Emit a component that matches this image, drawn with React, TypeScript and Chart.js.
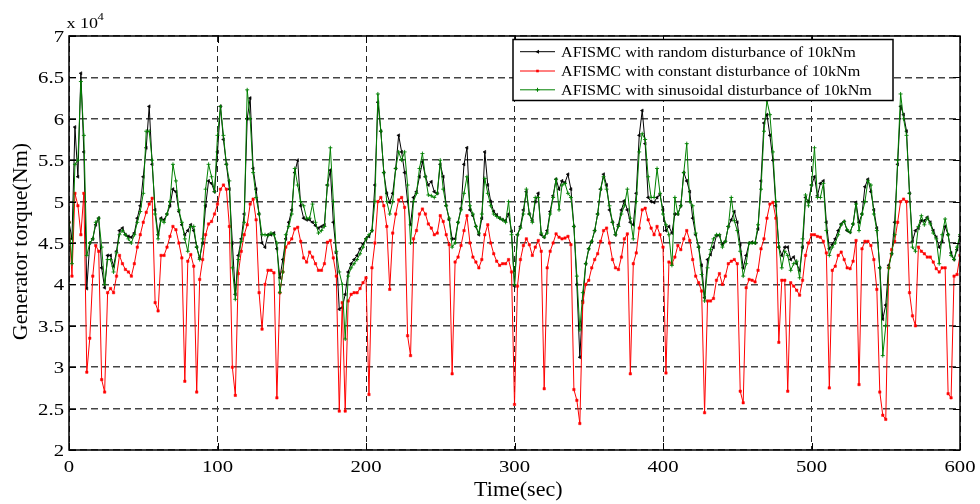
import React, { useEffect, useRef } from "react";
import { Chart, registerables } from "chart.js";

Chart.register(...registerables);

// Sample times (s), one every 2 s
const timeSec: number[] = Array.from({ length: 301 }, (_, i) => i * 2);

// Generator torque (x 10^4 Nm)
const randomDist: number[] = [
  4.75, 4.55, 5.9, 5.3, 6.55, 5.6, 3.95, 4.5, 4.55, 4.72,
  4.8, 4.2, 3.96, 4.35, 4.35, 4.22, 4.4, 4.65, 4.68, 4.6,
  4.58, 4.57, 4.62, 4.8, 4.95, 5.3, 5.65, 6.15, 5.45, 4.9,
  4.6, 4.8, 4.78, 4.85, 4.95, 5.15, 5.12, 4.88, 4.72, 4.6,
  4.65, 4.72, 4.65, 4.45, 4.32, 4.5, 4.95, 5.25, 5.22, 5.12,
  5.6, 6.15, 5.75, 5.45, 5.15, 4.5, 3.88, 4.35, 4.55, 4.85,
  6.0, 6.25, 5.4, 5.15, 4.85, 4.5, 4.45, 4.6, 4.6, 4.62,
  4.43, 4.08, 4.3, 4.55, 4.75, 4.9, 5.35, 5.5, 4.95, 4.8,
  4.78, 4.78, 4.75, 4.71, 4.68, 4.7, 4.72, 5.2, 5.38, 4.75,
  4.38, 3.7, 3.72, 3.88, 4.15, 4.25, 4.3, 4.35, 4.43, 4.49,
  4.55, 4.58, 4.65, 5.2, 6.2, 5.85, 5.35, 5.1, 4.99, 5.1,
  5.4, 5.8, 5.6, 5.35, 5.0, 4.72, 5.05, 5.12, 5.3, 5.48,
  5.3, 5.2, 5.24, 5.12, 5.1, 5.45, 5.3, 4.95, 4.78, 4.55,
  4.55, 4.75, 4.92, 5.45, 5.65, 4.9, 4.83, 4.7, 4.6, 4.8,
  5.6, 5.2, 5.0, 4.88, 4.84, 4.8, 4.78, 4.77, 4.85, 4.64,
  3.98, 4.6, 4.7, 4.9, 5.12, 4.85, 4.77, 5.0, 5.1, 4.6,
  4.57, 4.65, 4.88, 5.07, 5.27, 5.15, 5.25, 5.23, 5.33, 5.15,
  4.7, 4.0, 3.12, 3.8, 4.25, 4.43, 4.52, 4.65, 4.85, 5.15,
  5.33, 5.2, 4.9, 4.75, 4.6, 4.72, 4.9, 5.01, 4.9, 4.75,
  4.72, 5.1, 5.8, 6.1, 5.7, 5.05, 5.0, 4.99, 5.05, 5.08,
  4.9, 4.65, 4.7, 4.62, 4.85, 4.85, 4.95, 5.35, 5.25, 5.12,
  4.8, 4.6, 4.45, 4.23, 3.84, 4.3, 4.36, 4.45, 4.59, 4.59,
  4.48, 4.52, 4.7, 4.78, 4.88, 4.75, 4.48, 4.2, 4.35, 4.5,
  4.51, 4.5, 4.67, 5.25, 5.95, 6.05, 5.8, 5.5, 4.95, 4.45,
  4.35, 4.45, 4.45, 4.3, 4.33, 4.25, 4.17, 4.45, 5.05, 5.0,
  5.2, 5.3, 5.07, 5.22, 5.25, 4.75, 4.43, 4.48, 4.55, 4.65,
  4.73, 4.76, 4.65, 4.63, 4.73, 4.99, 4.75, 4.85, 5.18, 5.27,
  5.12, 4.9, 4.68, 4.2, 3.58, 3.75, 4.23, 4.37, 4.75, 5.45,
  6.15, 6.05, 5.85, 5.1, 4.52, 4.65, 4.68, 4.77, 4.77, 4.81,
  4.75, 4.65, 4.57, 4.45, 4.52, 4.7, 4.6, 4.38, 4.3, 4.42,
  4.58,
];

const constantDist: number[] = [
  4.75, 4.1, 5.1, 4.95, 4.6, 5.1, 2.94, 3.35, 4.1, 4.47,
  4.4, 2.85, 2.7, 3.9, 3.95, 3.9, 4.1, 4.35, 4.25, 4.18,
  4.15, 4.1, 4.25, 4.45, 4.6, 4.75, 4.87, 4.97, 5.04, 3.78,
  3.68, 4.35, 4.35, 4.45, 4.58, 4.7, 4.66, 4.5, 4.32, 2.83,
  4.28, 4.36, 4.22, 2.7, 4.06, 4.3, 4.6, 4.73, 4.76, 4.85,
  4.97, 5.15, 5.2, 5.15, 4.7, 3.0, 2.66, 4.13, 4.4, 4.6,
  4.72, 4.97, 5.03, 4.78, 3.9, 3.46, 4.0, 4.17, 4.17, 4.14,
  2.63, 3.9, 4.15, 4.45, 4.5, 4.55, 4.67, 4.69, 4.52, 4.32,
  4.27, 4.39, 4.33, 4.25, 4.17, 4.17, 4.25, 4.51, 4.53, 4.32,
  4.1, 2.47, 3.78, 2.47, 3.8, 3.88, 3.9, 3.9, 3.95, 4.02,
  4.08, 2.67, 4.2, 4.5, 5.0, 5.05, 4.95, 4.7, 3.94, 4.62,
  4.85, 5.02, 5.05, 4.93, 3.38, 3.14, 4.55, 4.65, 4.85, 4.91,
  4.85, 4.73, 4.68, 4.6, 4.62, 4.83, 4.76, 4.6, 4.48, 2.92,
  4.27, 4.33, 4.47, 4.65, 4.83, 4.5, 4.33, 4.27, 4.2, 4.3,
  4.6, 4.72, 4.5, 4.37, 4.28, 4.23, 4.25, 4.25, 4.3, 4.15,
  2.55, 3.98, 4.3, 4.47, 4.55, 4.48, 4.35, 4.45, 4.53, 4.4,
  2.74, 4.2, 4.4, 4.5, 4.61, 4.57, 4.55, 4.56, 4.58, 4.48,
  2.73, 2.6, 2.32, 3.78, 4.0, 4.05, 4.2, 4.3, 4.37, 4.52,
  4.65, 4.68, 4.5, 4.3, 4.2, 4.18, 4.33, 4.55, 4.61, 2.92,
  4.25, 4.38, 4.68, 4.9, 4.92, 4.78, 4.68, 4.6, 4.7, 4.6,
  4.45, 2.93, 4.27, 4.25, 4.33, 4.47, 4.42, 4.55, 4.65, 4.53,
  4.3, 4.1, 4.02, 3.92, 2.45, 3.8, 3.8, 3.83, 4.05, 4.13,
  4.0, 4.1, 4.25, 4.28, 4.3, 4.25, 2.71, 2.57, 3.96, 4.06,
  4.05, 4.03, 4.17, 4.43, 4.55, 4.8, 4.97, 4.99, 4.8, 3.3,
  4.05, 4.05, 2.71, 4.02, 3.98, 3.93, 3.87, 4.05, 4.35, 4.5,
  4.6, 4.6, 4.58, 4.57, 4.52, 4.38, 2.75, 4.17, 4.22, 4.35,
  4.39, 4.3, 4.2, 4.19, 4.28, 4.53, 2.79, 4.43, 4.52, 4.52,
  4.47, 4.3, 3.94, 2.7, 2.42, 2.37, 4.2, 4.42, 4.52, 4.75,
  5.0, 5.03, 5.0, 3.9, 3.62, 3.5, 4.45, 4.4, 4.37, 4.33,
  4.33, 4.27, 4.19, 4.15, 4.2, 4.2, 2.68, 2.63, 4.1, 4.12,
  4.35,
];

const sinusoidalDist: number[] = [
  4.75, 4.25, 5.45, 5.5, 6.45, 5.8, 4.35, 4.5, 4.55, 4.75,
  4.8, 4.45, 4.0, 4.3, 4.3, 4.15, 4.38, 4.6, 4.65, 4.6,
  4.55, 4.5, 4.6, 4.75, 4.88, 5.1, 5.85, 5.85, 5.5, 4.85,
  4.55, 4.78, 4.75, 4.85, 5.0, 5.45, 5.25, 4.9, 4.75, 4.55,
  4.4, 4.7, 4.7, 4.45, 4.3, 4.55, 5.15, 5.45, 5.3, 5.12,
  5.8, 6.15, 5.8, 5.45, 5.25, 4.2, 3.82, 4.3, 4.52, 4.75,
  6.35, 6.0, 5.35, 5.05, 4.85, 4.6, 4.6, 4.59, 4.62, 4.6,
  4.5, 3.9, 4.15, 4.6, 4.7, 4.85, 5.4, 5.2, 5.0, 4.95,
  4.8, 4.8, 4.97, 4.75, 4.62, 4.65, 4.7, 5.2, 5.65, 5.0,
  4.4, 4.15, 4.0, 3.34, 4.1, 4.2, 4.25, 4.3, 4.37, 4.45,
  4.55, 4.6, 4.65, 5.0, 6.3, 5.85, 5.35, 5.0, 4.85, 5.0,
  5.4, 5.6, 5.5, 5.6, 5.2, 4.5, 5.0, 5.1, 5.4, 5.58,
  5.3, 5.08, 5.07, 5.05, 5.1, 5.5, 5.15, 4.95, 4.8, 4.45,
  4.5, 4.75, 4.9, 5.1, 5.3, 4.95, 4.85, 4.7, 4.62, 4.85,
  5.28, 5.1, 4.95, 4.85, 4.82, 4.8, 4.78, 4.75, 5.0, 4.6,
  4.0, 4.6, 4.68, 4.85, 5.15, 4.85, 4.75, 5.05, 5.05, 4.62,
  4.57, 4.62, 4.85, 5.05, 5.27, 4.9, 5.2, 5.22, 5.1, 5.05,
  4.7, 4.1, 3.45, 3.9, 4.25, 4.43, 4.52, 4.65, 4.85, 5.15,
  5.3, 5.15, 4.95, 4.75, 4.6, 4.7, 4.85, 4.95, 5.15, 4.8,
  4.55, 5.0, 5.6, 5.82, 5.75, 5.3, 5.05, 5.05, 5.4, 5.1,
  4.85, 4.72, 4.6, 4.23, 5.05, 4.85, 4.95, 5.35, 5.7, 5.0,
  4.95, 4.62, 4.45, 4.12, 3.8, 4.2, 4.42, 4.55, 4.6, 4.6,
  4.45, 4.52, 4.7, 5.05, 4.77, 4.65, 4.4, 4.1, 4.25, 4.5,
  4.5, 4.5, 4.72, 5.15, 5.85, 6.22, 6.05, 5.6, 5.0, 4.45,
  4.2, 4.4, 4.35, 4.17, 4.25, 4.28, 4.08, 4.55, 5.08, 4.95,
  5.2, 5.65, 5.05, 5.05, 5.22, 4.65, 4.35, 4.45, 4.5, 4.6,
  4.72, 4.76, 4.66, 4.63, 4.73, 4.97, 4.65, 4.85, 5.0, 5.25,
  5.2, 4.85, 4.65, 4.2, 3.14, 3.5, 4.2, 4.37, 4.6, 5.5,
  6.3, 6.0, 5.8, 5.1, 4.45, 4.4, 4.7, 4.83, 4.72, 4.8,
  4.73, 4.62, 4.55, 4.25, 4.6, 4.79, 4.6, 4.35, 4.3, 4.45,
  4.6,
];

const xTicks: number[] = [0, 100, 200, 300, 400, 500, 600];
const yTicks: number[] = [2, 2.5, 3, 3.5, 4, 4.5, 5, 5.5, 6, 6.5, 7];

const seriesLabels: string[] = [
  "AFISMC with random disturbance of 10kNm",
  "AFISMC with constant disturbance of 10kNm",
  "AFISMC with sinusoidal disturbance of 10kNm",
];
const seriesColors: string[] = ["#000000", "#ff0000", "#008000"];

const xTitle = "Time(sec)";
const yTitle = "Generator torque(Nm)";

const SERIF = '"Liberation Serif", "Times New Roman", Times, serif';

function drawText(
  ctx: CanvasRenderingContext2D,
  text: string,
  x: number,
  y: number,
  size: number,
  sx: number,
  align: "left" | "center" | "right"
) {
  ctx.save();
  ctx.font = `${size}px ${SERIF}`;
  ctx.textBaseline = "alphabetic";
  ctx.textAlign = "left";
  ctx.fillStyle = "#000";
  const w = ctx.measureText(text).width * sx;
  let x0 = x;
  if (align === "center") x0 = x - w / 2;
  else if (align === "right") x0 = x - w;
  ctx.translate(x0, y);
  ctx.scale(sx, 1);
  ctx.fillText(text, 0, 0);
  ctx.restore();
}

function drawMarker(ctx: CanvasRenderingContext2D, kind: number, x: number, y: number, color: string) {
  ctx.save();
  ctx.fillStyle = color;
  ctx.strokeStyle = color;
  ctx.lineWidth = 1;
  if (kind === 0) {
    ctx.beginPath();
    ctx.moveTo(x - 2.2, y);
    ctx.lineTo(x + 1.5, y - 2);
    ctx.lineTo(x + 1.5, y + 2);
    ctx.closePath();
    ctx.fill();
  } else if (kind === 1) {
    ctx.fillRect(x - 1.3, y - 1.3, 2.6, 2.6);
  } else {
    ctx.beginPath();
    ctx.moveTo(x - 2, y);
    ctx.lineTo(x + 2, y);
    ctx.moveTo(x, y - 2);
    ctx.lineTo(x, y + 2);
    ctx.stroke();
  }
  ctx.restore();
}

const decorPlugin = {
  id: "matlabDecor",
  afterDraw(chart: any) {
    const ctx: CanvasRenderingContext2D = chart.ctx;
    const { left, right, top, bottom } = chart.chartArea;
    const xs = chart.scales.x;
    const ys = chart.scales.y;

    ctx.save();
    // box
    ctx.strokeStyle = "#000";
    ctx.lineWidth = 1.5;
    ctx.strokeRect(left, top, right - left, bottom - top);
    // inward ticks
    ctx.lineWidth = 1;
    ctx.beginPath();
    xTicks.forEach((v) => {
      const px = Math.round(xs.getPixelForValue(v)) + 0.5;
      ctx.moveTo(px, bottom);
      ctx.lineTo(px, bottom - 7);
      ctx.moveTo(px, top);
      ctx.lineTo(px, top + 7);
    });
    yTicks.forEach((v) => {
      const py = Math.round(ys.getPixelForValue(v)) + 0.5;
      ctx.moveTo(left, py);
      ctx.lineTo(left + 7, py);
      ctx.moveTo(right, py);
      ctx.lineTo(right - 7, py);
    });
    ctx.stroke();
    ctx.restore();

    // tick labels
    xTicks.forEach((v) => {
      drawText(ctx, String(v), xs.getPixelForValue(v), 471.5, 17.3, 1.2, "center");
    });
    yTicks.forEach((v) => {
      drawText(ctx, String(v), 64, ys.getPixelForValue(v) + 5.9, 17.3, 1.2, "right");
    });

    // exponent label
    drawText(ctx, "x 10", 66.5, 28.3, 15, 1.2, "left");
    drawText(ctx, "4", 97.5, 20, 10.5, 1.2, "left");

    // axis titles
    drawText(ctx, xTitle, 518.3, 496, 20, 1.1, "center");
    ctx.save();
    ctx.translate(27, 241.5);
    ctx.rotate(-Math.PI / 2);
    ctx.font = `22px ${SERIF}`;
    ctx.textAlign = "center";
    ctx.textBaseline = "alphabetic";
    ctx.fillStyle = "#000";
    ctx.fillText(yTitle, 0, 0);
    ctx.restore();

    // legend
    const lx0 = 513, ly0 = 39.5, lx1 = 893, ly1 = 100.5;
    ctx.save();
    ctx.fillStyle = "#fff";
    ctx.fillRect(lx0, ly0, lx1 - lx0, ly1 - ly0);
    ctx.strokeStyle = "#000";
    ctx.lineWidth = 1.5;
    ctx.strokeRect(lx0, ly0, lx1 - lx0, ly1 - ly0);
    const rowY = [51.7, 71, 89.8];
    seriesLabels.forEach((label, i) => {
      const y = rowY[i];
      ctx.strokeStyle = seriesColors[i];
      ctx.lineWidth = 1;
      ctx.beginPath();
      ctx.moveTo(520, y);
      ctx.lineTo(555, y);
      ctx.stroke();
      drawMarker(ctx, i, 537.5, y, seriesColors[i]);
      drawText(ctx, label, 561, y + 5, 13.7, 1.18, "left");
    });
    ctx.restore();
  },
};

export default function App() {
  const canvasRef = useRef<HTMLCanvasElement | null>(null);

  useEffect(() => {
    const canvas = canvasRef.current;
    if (!canvas) return;
    const toXY = (vals: number[]) => vals.map((v, i) => ({ x: timeSec[i], y: v }));

    const chart = new Chart(canvas, {
      type: "line",
      data: {
        datasets: [
          {
            label: seriesLabels[0],
            data: toXY(randomDist),
            borderColor: seriesColors[0],
            backgroundColor: seriesColors[0],
            borderWidth: 1,
            pointStyle: "triangle",
            pointRotation: -90,
            pointRadius: 1.8,
            pointBorderWidth: 0.6,
            order: 2,
          },
          {
            label: seriesLabels[1],
            data: toXY(constantDist),
            borderColor: seriesColors[1],
            backgroundColor: seriesColors[1],
            borderWidth: 1,
            pointStyle: "rect",
            pointRadius: 1.7,
            pointBorderWidth: 0.5,
            order: 1,
          },
          {
            label: seriesLabels[2],
            data: toXY(sinusoidalDist),
            borderColor: seriesColors[2],
            backgroundColor: seriesColors[2],
            borderWidth: 1,
            pointStyle: "cross",
            pointRadius: 2,
            pointBorderWidth: 0.9,
            order: 0,
          },
        ],
      },
      options: {
        responsive: false,
        animation: false,
        events: [],
        devicePixelRatio: 1,
        layout: { padding: { left: 0, top: 36, right: 20, bottom: 0 } },
        plugins: { legend: { display: false }, tooltip: { enabled: false } },
        scales: {
          x: {
            type: "linear",
            min: 0,
            max: 600,
            ticks: { display: false, stepSize: 100 },
            grid: { color: "#222", lineWidth: 1, drawTicks: false },
            border: { display: false, dash: [6, 4] },
            afterFit: (s: any) => {
              s.height = 54;
            },
          },
          y: {
            type: "linear",
            min: 2,
            max: 7,
            ticks: { display: false, stepSize: 0.5 },
            grid: { color: "#444", lineWidth: 1.5, drawTicks: false },
            border: { display: false, dash: [7, 4] },
            afterFit: (s: any) => {
              s.width = 69;
            },
          },
        },
      },
      plugins: [decorPlugin],
    } as any);

    return () => chart.destroy();
  }, []);

  return (
    <div style={{ position: "absolute", left: 0, top: 0, width: 980, height: 504, background: "#fff" }}>
      <canvas ref={canvasRef} width={980} height={504} style={{ width: 980, height: 504, display: "block" }} />
    </div>
  );
}
